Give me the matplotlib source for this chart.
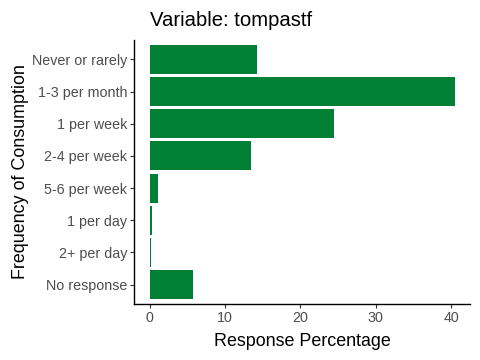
import matplotlib.pyplot as plt

plt.rcParams['font.family'] = ['Liberation Sans', 'DejaVu Sans']

# data
categories = ["Never or rarely", "1-3 per month", "1 per week", "2-4 per week",
              "5-6 per week", "1 per day", "2+ per day", "No response"]
percentages = [14.2, 40.5, 24.5, 13.4, 1.1, 0.3, 0.15, 5.7]
x_ticks = [0, 10, 20, 30, 40]

bar_color = '#008035'

fig = plt.figure(figsize=(4.8, 3.6), dpi=100)
ax = fig.add_axes([134 / 480, 1 - 304 / 360, (470 - 134) / 480, (304 - 40) / 360])

ypos = list(range(len(categories), 0, -1))
ax.barh(ypos, percentages, height=0.9, color=bar_color, linewidth=0)

ax.set_xlim(-2.08, 42.5)
ax.set_ylim(0.4, len(categories) + 0.6)
ax.set_yticks(ypos)
ax.set_yticklabels(categories)
ax.set_xticks(x_ticks)

for s in ['top', 'right']:
    ax.spines[s].set_visible(False)
for s in ['left', 'bottom']:
    ax.spines[s].set_linewidth(1.0)
    ax.spines[s].set_color('black')

ax.tick_params(axis='both', colors='#333333', labelcolor='#4D4D4D',
               labelsize=10.3, length=3, width=0.8, pad=2)

ax.set_xlabel("Response Percentage", fontsize=12.9, color='black', labelpad=6)
ax.set_ylabel("Frequency of Consumption", fontsize=12.9, color='black', labelpad=2)

fig.text(150 / 480, 1 - 20 / 360, "Variable: tompastf", fontsize=14.6,
         ha='left', va='center', color='black')

fig.savefig("out.png", dpi=100)
